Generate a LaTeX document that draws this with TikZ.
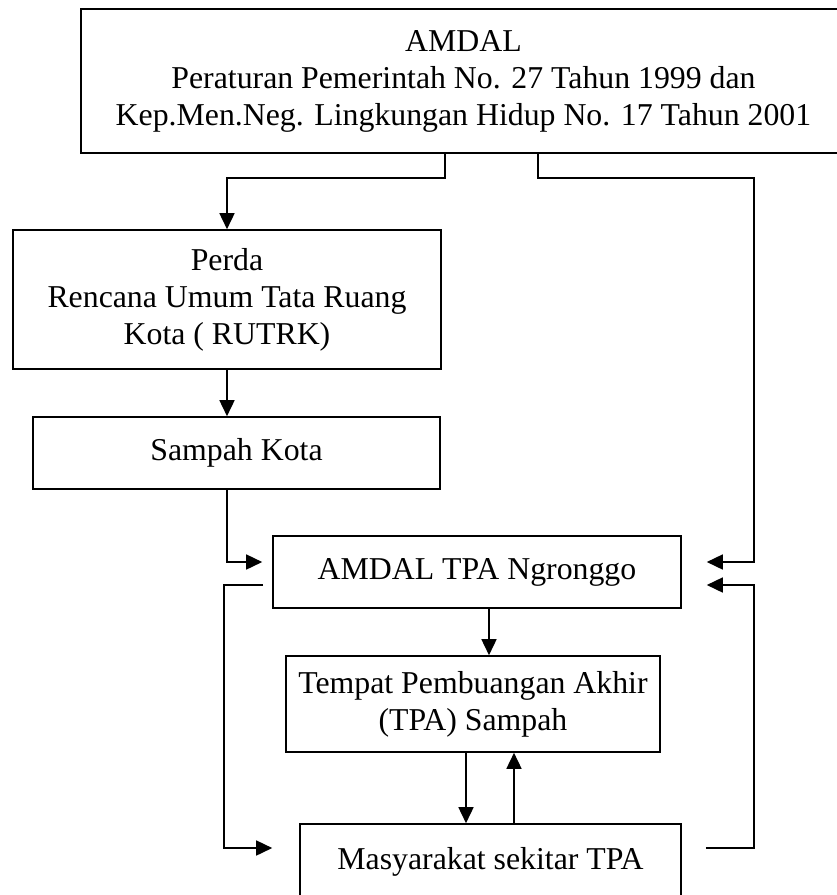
\documentclass[tikz,border=0pt]{standalone}
\usepackage{fontspec}
\setmainfont{Liberation Serif}
\usepackage{tikz}
\usetikzlibrary{arrows.meta}

\begin{document}
\begin{tikzpicture}[x=1pt, y=-1pt, line width=1.6pt,
  box/.style={draw, align=center, inner sep=0pt, font=\fontsize{31.8}{37}\selectfont},
  arr/.style={-{Triangle[length=16pt, width=15pt]}}]
\useasboundingbox (0,0) rectangle (837,895);
\clip (0,0) rectangle (837,895);
% boxes
\node (amdal) [box, minimum width=765pt, minimum height=144pt] at (463.5,81) {AMDAL\\Peraturan Pemerintah No. 27 Tahun 1999 dan\\Kep.Men.Neg. Lingkungan Hidup No. 17 Tahun 2001};
\node (perda) [box, minimum width=428pt, minimum height=139pt] at (227,299.5) {Perda\\Rencana Umum Tata Ruang\\Kota ( RUTRK)};
\node (sampah) [box, minimum width=407pt, minimum height=72pt] at (236.5,453) {Sampah Kota};
\node (tpa) [box, minimum width=408pt, minimum height=72pt] at (477,572) {AMDAL TPA Ngronggo};
\node (tempat) [box, minimum width=374pt, minimum height=96pt] at (473,704) {Tempat Pembuangan Akhir\\(TPA) Sampah};
\node (warga) [box, minimum width=381pt, minimum height=76pt] at (490.5,862) {Masyarakat sekitar TPA};
% arrows
\draw [arr] ([xshift=-18.5pt]amdal.south) -- ++(0,24) -| (perda.north);
\draw [arr] ([xshift=74.5pt]amdal.south) -- ++(0,24) -| ([xshift=72pt, yshift=10pt]tpa.east) -- ([xshift=25pt, yshift=10pt]tpa.east);
\draw [arr] (perda.south) -- (perda.south |- sampah.north);
\draw [arr] (perda.south |- sampah.south) |- ([xshift=-10pt, yshift=10pt]tpa.west);
\draw [arr] ([xshift=-9pt, yshift=-13pt]tpa.west) -- ++(-39,0) |- ([xshift=-27pt, yshift=14pt]warga.west);
\draw [arr] ([xshift=12pt]tpa.south) -- ([xshift=12pt]tpa.south |- tempat.north);
\draw [arr] ([xshift=-7pt]tempat.south) -- ([xshift=-7pt]tempat.south |- warga.north);
\draw [arr] ([xshift=41pt]tempat.south |- warga.north) -- ([xshift=41pt]tempat.south);
\draw [arr] ([xshift=24pt, yshift=14pt]warga.east) -- ++(48,0) |- ([xshift=25pt, yshift=-13pt]tpa.east);
\end{tikzpicture}
\end{document}
